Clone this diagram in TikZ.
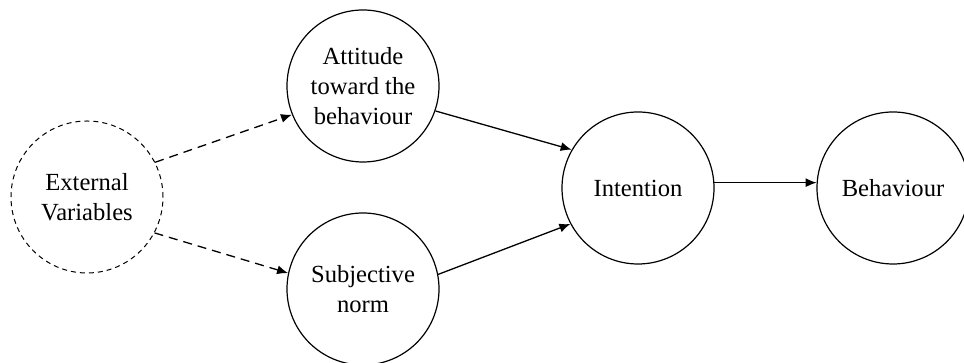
\documentclass[tikz,border=0pt]{standalone}
\usepackage{fontspec}
\setmainfont{Liberation Serif}
\usetikzlibrary{arrows.meta}
\tikzset{
  construct/.style={circle, draw, line width=1.2pt, minimum size=152pt, inner sep=0pt, align=center, font=\fontsize{24.6}{30}\selectfont},
  extern/.style={construct, line width=1pt, dash pattern=on 5pt off 4pt},
  link/.style={line width=1.3pt, -{Latex[length=11pt,width=9pt]}},
  weaklink/.style={link, dash pattern=on 9pt off 6pt}
}
\begin{document}
\begin{tikzpicture}[x=1pt,y=1pt]
\def\W{964};\def\H{363};
\useasboundingbox (0,0) rectangle (\W,\H);
\node[extern] (ext) at (87,166) {External\\Variables};
\node[construct] (att) at (363,277) {Attitude\\toward the\\behaviour};
\node[construct] (norm) at (363,74) {Subjective\\norm};
\node[construct] (int) at (638,175) {Intention};
\node[construct] (beh) at (893,175) {Behaviour};
\draw[weaklink] (ext.27)--(att.202);
\draw[weaklink] (ext.-28)--(norm.168);
\draw[link] (att.-19)--(int.150);
\draw[link] (norm.11)--(int.208);
\draw[link] (int.4)--(beh.176);
\end{tikzpicture}
\end{document}
